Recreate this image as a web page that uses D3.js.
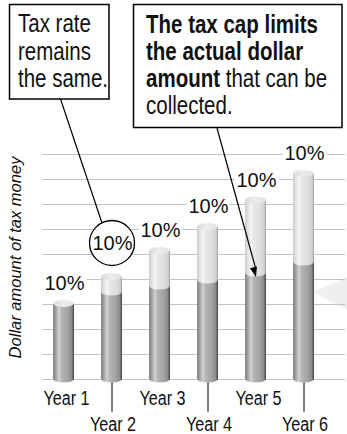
<!DOCTYPE html>
<html><head><meta charset="utf-8">
<script src="https://cdn.jsdelivr.net/npm/d3@7"></script>
<style>
html,body{margin:0;padding:0;background:#fff;}
svg{display:block;}
</style></head>
<body>
<svg id="chart" width="347" height="434"></svg>
<script>
// ---- data ----
const years = ["Year 1", "Year 2", "Year 3", "Year 4", "Year 5", "Year 6"];
const totalValues = [3.02, 4.1, 5.14, 6.1, 7.16, 8.22];   // dollar amount at 10% rate
const cappedValues = [3.02, 3.48, 3.72, 3.96, 4.24, 4.68]; // amount collected under the cap
const rateLabels = ["10%", "10%", "10%", "10%", "10%", "10%"];
const gridValues = [0, 1, 2, 3, 4, 5, 6, 7, 8, 9];
const yAxisTitle = "Dollar amount of tax money";
const note1Lines = ["Tax rate", "remains", "the same."];
const note2Lines = [
  [{t: "The tax cap limits", b: true}],
  [{t: "the actual dollar", b: true}],
  [{t: "amount", b: true}, {t: " that can be", b: false}],
  [{t: "collected.", b: false}]
];

const svg = d3.select("#chart");
const SANS = "'Liberation Sans',Arial,Helvetica,sans-serif";
const CONDENSE = 0.82;

const x = d3.scalePoint().domain(years).range([63.5, 303.5]);
const y = d3.scaleLinear().domain([0, 9]).range([379, 154]);
const rx = 10.5, ry = 3.5;

// defs: gradients
const defs = svg.append("defs");
function grad(id, stops) {
  const g = defs.append("linearGradient").attr("id", id).attr("x1", 0).attr("x2", 1).attr("y1", 0).attr("y2", 0);
  stops.forEach(s => g.append("stop").attr("offset", s[0]).attr("stop-color", s[1]));
}
grad("gDark", [[0, "#858585"], [0.12, "#9c9c9c"], [0.28, "#d2d2d2"], [0.42, "#b4b4b4"], [0.7, "#a3a3a3"], [0.9, "#8a8a8a"], [1, "#3c3c3c"]]);
grad("gLight", [[0, "#cdcdcd"], [0.12, "#dedede"], [0.28, "#f6f6f6"], [0.45, "#e6e6e6"], [0.75, "#dedede"], [0.92, "#cfcfcf"], [1, "#9a9a9a"]]);
grad("gTop", [[0, "#dcdcdc"], [0.5, "#ececec"], [1, "#e2e2e2"]]);

// decorative faint pointer on right
svg.append("path").attr("d", "M313,292 L347,277 L347,310 Z").attr("fill", "#efefef");

// gridlines
svg.append("g").selectAll("line").data(gridValues).join("line")
  .attr("x1", 42).attr("x2", 345)
  .attr("y1", d => y(d) + 0.5).attr("y2", d => y(d) + 0.5)
  .attr("stroke", "#c4c4c4").attr("stroke-width", 1);

// tick lines below even years
svg.append("g").selectAll("line").data(years.filter((d, i) => i % 2 === 1)).join("line")
  .attr("x1", d => x(d) + 0.5).attr("x2", d => x(d) + 0.5)
  .attr("y1", y(0)).attr("y2", 412)
  .attr("stroke", "#000").attr("stroke-width", 1);

// cylinders
const cyl = svg.append("g").selectAll("g").data(years).join("g");
cyl.each(function(d, i) {
  const g = d3.select(this);
  const cx = x(d), x0 = cx - rx;
  const yb = y(0), yc = y(cappedValues[i]), yt = y(totalValues[i]);
  g.append("path")
    .attr("d", `M${x0},${yc} L${x0},${yb} A${rx},${ry} 0 0 0 ${cx + rx},${yb} L${cx + rx},${yc} Z`)
    .attr("fill", "url(#gDark)");
  if (totalValues[i] > cappedValues[i]) {
    g.append("path")
      .attr("d", `M${x0},${yt} L${x0},${yc} A${rx},${ry} 0 0 0 ${cx + rx},${yc} L${cx + rx},${yt} Z`)
      .attr("fill", "url(#gLight)");
  }
  g.append("ellipse").attr("cx", cx).attr("cy", yt).attr("rx", rx).attr("ry", ry)
    .attr("fill", "url(#gTop)");
});

// rate labels with white knockout
const lab = svg.append("g").selectAll("g").data(years).join("g");
lab.each(function(d, i) {
  const g = d3.select(this);
  const cx = x(d) + 1;
  const yt = y(totalValues[i]);
  const circled = i === 1;
  const by = circled ? yt - 26.5 : yt - 13.5;
  const bg = g.append("rect").attr("fill", "#fff");
  const t = g.append("text").attr("x", cx).attr("y", by).attr("text-anchor", "middle")
    .attr("font-family", SANS).attr("font-size", 20).attr("fill", "#111").text(rateLabels[i]);
  const bb = t.node().getBBox();
  if (circled) {
    bg.remove();
    g.insert("circle", "text").attr("cx", x(d) + 0.5).attr("cy", yt - 33.5).attr("r", 22.5)
      .attr("fill", "#fff").attr("stroke", "#000").attr("stroke-width", 1.3);
  } else {
    bg.attr("x", bb.x - 2).attr("y", bb.y + 3).attr("width", bb.width + 4).attr("height", bb.height - 6);
  }
});

// year labels (condensed)
svg.append("g").selectAll("text").data(years).join("text")
  .attr("transform", (d, i) => `translate(${x(d) + (i % 2 === 0 ? 3 : 1.5)},${i % 2 === 0 ? 405 : 431}) scale(0.77,1)`)
  .attr("text-anchor", "middle")
  .attr("font-family", SANS).attr("font-size", 21).attr("fill", "#111")
  .text(d => d);

// y-axis title
svg.append("text")
  .attr("transform", "translate(20.5,257.5) rotate(-90)")
  .attr("text-anchor", "middle")
  .attr("font-family", SANS).attr("font-style", "italic").attr("font-size", 16.5).attr("fill", "#111")
  .text(yAxisTitle);

// callout pointer lines
svg.append("line").attr("x1", 60.5).attr("y1", 99).attr("x2", 102).attr("y2", 223)
  .attr("stroke", "#000").attr("stroke-width", 1.2);
const ax1 = 217, ay1 = 128, ax2 = 256, ay2 = 277;
svg.append("line").attr("x1", ax1).attr("y1", ay1).attr("x2", ax2 - 0.2).attr("y2", ay2 - 8)
  .attr("stroke", "#000").attr("stroke-width", 1.2);
(function() {
  const ang = Math.atan2(ay2 - ay1, ax2 - ax1);
  const L = 10, W = 3.6;
  const bx = ax2 - L * Math.cos(ang), by = ay2 - L * Math.sin(ang);
  const px = -Math.sin(ang) * W, py = Math.cos(ang) * W;
  svg.append("path").attr("d", `M${ax2},${ay2} L${bx + px},${by + py} L${bx - px},${by - py} Z`).attr("fill", "#000");
})();

// note boxes
svg.append("rect").attr("x", 9.5).attr("y", 4.5).attr("width", 99.5).attr("height", 94.5)
  .attr("fill", "#fff").attr("stroke", "#000").attr("stroke-width", 1.5);
svg.append("g").selectAll("text").data(note1Lines).join("text")
  .attr("transform", (d, i) => `translate(18,${32 + i * 27.5}) scale(${CONDENSE},1)`)
  .attr("font-family", SANS).attr("font-size", 25).attr("fill", "#111")
  .text(d => d);

svg.append("rect").attr("x", 133.5).attr("y", 4.5).attr("width", 208.5).attr("height", 123)
  .attr("fill", "#fff").attr("stroke", "#000").attr("stroke-width", 1.5);
const n2 = svg.append("g").selectAll("text").data(note2Lines).join("text")
  .attr("transform", (d, i) => `translate(146,${33 + i * 27}) scale(${CONDENSE},1)`)
  .attr("font-family", SANS).attr("font-size", 25).attr("fill", "#111");
n2.selectAll("tspan").data(d => d).join("tspan")
  .attr("font-weight", d => d.b ? "bold" : "normal")
  .text(d => d.t);
</script>
</body></html>
